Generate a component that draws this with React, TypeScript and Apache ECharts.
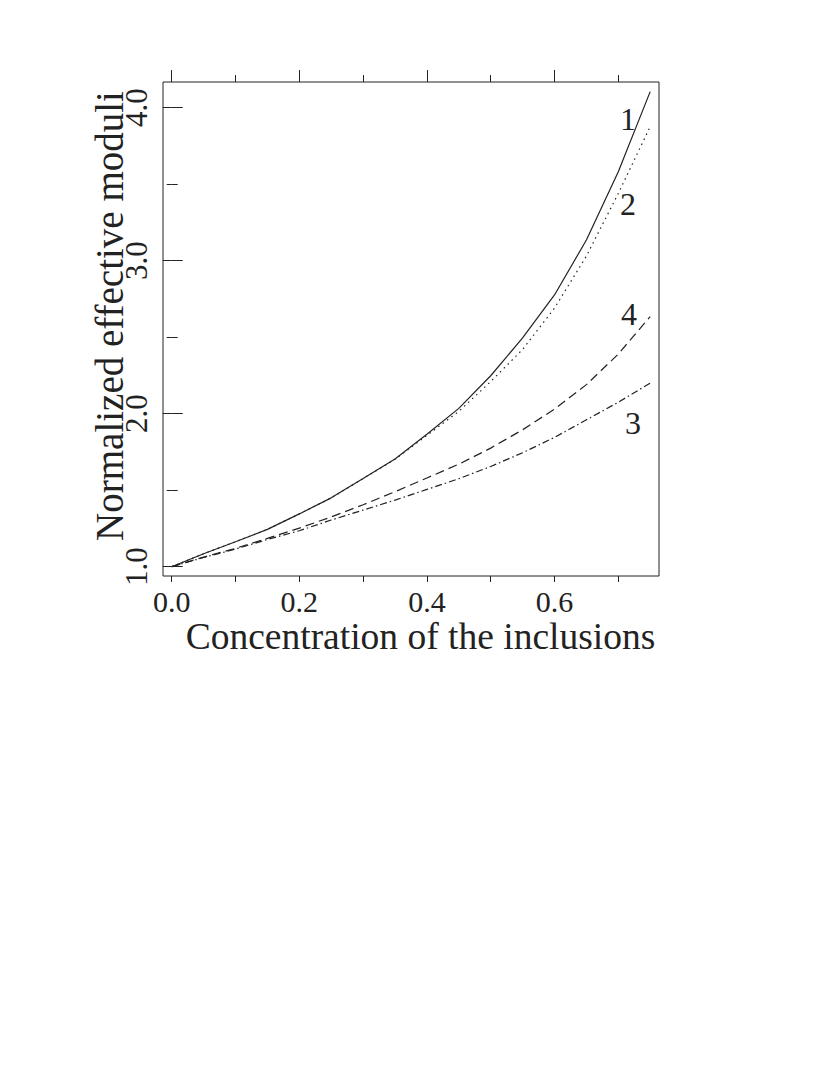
import React, { useEffect, useRef } from "react";
import * as echarts from "echarts";

const X_VALUES = [0, 0.05, 0.1, 0.15, 0.2, 0.25, 0.3, 0.35, 0.4, 0.45, 0.5, 0.55, 0.6, 0.65, 0.7, 0.75];
const CURVE_1 = [1, 1.085, 1.163, 1.244, 1.345, 1.45, 1.576, 1.704, 1.866, 2.035, 2.248, 2.495, 2.776, 3.135, 3.582, 4.105];
const CURVE_2 = [1, 1.085, 1.163, 1.244, 1.345, 1.45, 1.576, 1.702, 1.858, 2.015, 2.21, 2.42, 2.69, 3.03, 3.44, 3.876];
const CURVE_4 = [1, 1.063, 1.12, 1.185, 1.252, 1.325, 1.405, 1.49, 1.58, 1.67, 1.775, 1.895, 2.03, 2.19, 2.39, 2.635];
const CURVE_3 = [1, 1.06, 1.115, 1.178, 1.235, 1.305, 1.37, 1.435, 1.505, 1.575, 1.655, 1.745, 1.845, 1.96, 2.075, 2.2];

const X_MAJOR = [0, 0.2, 0.4, 0.6];
const X_MINOR = [0.1, 0.3, 0.5, 0.7];
const Y_MAJOR = [1, 2, 3, 4];
const Y_MINOR = [1.5, 2.5, 3.5];

const X_TITLE = "Concentration of the inclusions";
const Y_TITLE = "Normalized effective moduli";
const CURVE_LABELS = ["1", "2", "4", "3"];

const INK = "#222";
const FONT = "'Liberation Serif', 'DejaVu Serif', serif";

const pairs = (ys: number[]) => X_VALUES.map((x, i) => [x, ys[i]]);

export default function App() {
  const ref = useRef<HTMLDivElement>(null);
  useEffect(() => {
    if (!ref.current) return;
    const chart = echarts.init(ref.current, undefined, { renderer: "svg" });
    const tickStyle = { color: INK, width: 1 };
    const xAxis = (pos: "bottom" | "top", vals: number[], len: number, labels: boolean) => ({
      type: "value",
      position: pos,
      min: -0.01364,
      max: 0.7638,
      axisLine: { show: false },
      splitLine: { show: false },
      axisTick: { show: true, customValues: vals, length: len, lineStyle: tickStyle },
      axisLabel: labels
        ? {
            show: true,
            customValues: vals,
            formatter: (v: number) => v.toFixed(1),
            fontSize: 30,
            lineHeight: 22,
            fontFamily: FONT,
            color: INK,
            margin: 14,
          }
        : { show: false },
    });
    const yAxis = (pos: "left" | "right", vals: number[], len: number, labels: boolean) => ({
      type: "value",
      position: pos,
      min: 0.9392,
      max: 4.168,
      axisLine: { show: false },
      splitLine: { show: false },
      axisTick: { show: true, customValues: vals, length: len, lineStyle: tickStyle },
      axisLabel: labels
        ? {
            show: true,
            customValues: vals,
            formatter: (v: number) => v.toFixed(1),
            fontSize: 31,
            lineHeight: 24,
            fontFamily: FONT,
            color: INK,
            margin: 15,
            rotate: 90,
          }
        : { show: false },
    });
    const lineSeries = (ys: number[], type: any, name: string) => ({
      type: "line",
      name,
      data: pairs(ys),
      xAxisIndex: 0,
      yAxisIndex: 0,
      showSymbol: false,
      symbol: "none",
      lineStyle: { color: INK, width: 1.2, type },
    });
    const labelPos = [
      [628, 119],
      [628, 204],
      [629, 314],
      [633, 423],
    ];
    chart.setOption({
      animation: false,
      backgroundColor: "#fff",
      grid: {
        left: 163,
        top: 82,
        right: 171,
        bottom: 499,
        show: true,
        borderColor: INK,
        borderWidth: 1,
        backgroundColor: "transparent",
      },
      xAxis: [
        xAxis("bottom", X_MAJOR, 6, true),
        xAxis("bottom", X_MINOR, 6, false),
        xAxis("top", X_MAJOR, 12, false),
        xAxis("top", X_MINOR, 7, false),
      ],
      yAxis: [
        yAxis("left", Y_MAJOR, 9, true),
        yAxis("left", Y_MINOR, 5, false),
        yAxis("right", Y_MAJOR, 11, false),
        yAxis("right", Y_MINOR, 6, false),
      ],
      series: [
        lineSeries(CURVE_1, "solid", "1"),
        lineSeries(CURVE_2, [1.5, 4], "2"),
        lineSeries(CURVE_4, [9, 5], "4"),
        lineSeries(CURVE_3, [7, 3, 1.5, 3], "3"),
      ],
      graphic: [
        {
          type: "text",
          x: 420.5,
          y: 636,
          style: {
            text: X_TITLE,
            fontSize: 37.5,
            lineHeight: 30,
            fontFamily: FONT,
            fill: INK,
            textAlign: "center",
            textVerticalAlign: "middle",
          },
        },
        {
          type: "text",
          x: 109,
          y: 316,
          rotation: Math.PI / 2,
          style: {
            text: Y_TITLE,
            fontSize: 39,
            lineHeight: 30,
            fontFamily: FONT,
            fill: INK,
            textAlign: "center",
            textVerticalAlign: "middle",
          },
        },
        ...CURVE_LABELS.map((t, i) => ({
          type: "text",
          x: labelPos[i][0],
          y: labelPos[i][1],
          style: {
            text: t,
            fontSize: 32,
            fontFamily: FONT,
            fill: INK,
            textAlign: "center",
            textVerticalAlign: "middle",
          },
        })),
      ],
    });
    return () => chart.dispose();
  }, []);
  return (
    <div
      ref={ref}
      style={{ position: "absolute", left: 0, top: 0, width: 830, height: 1075, background: "#fff" }}
    />
  );
}
